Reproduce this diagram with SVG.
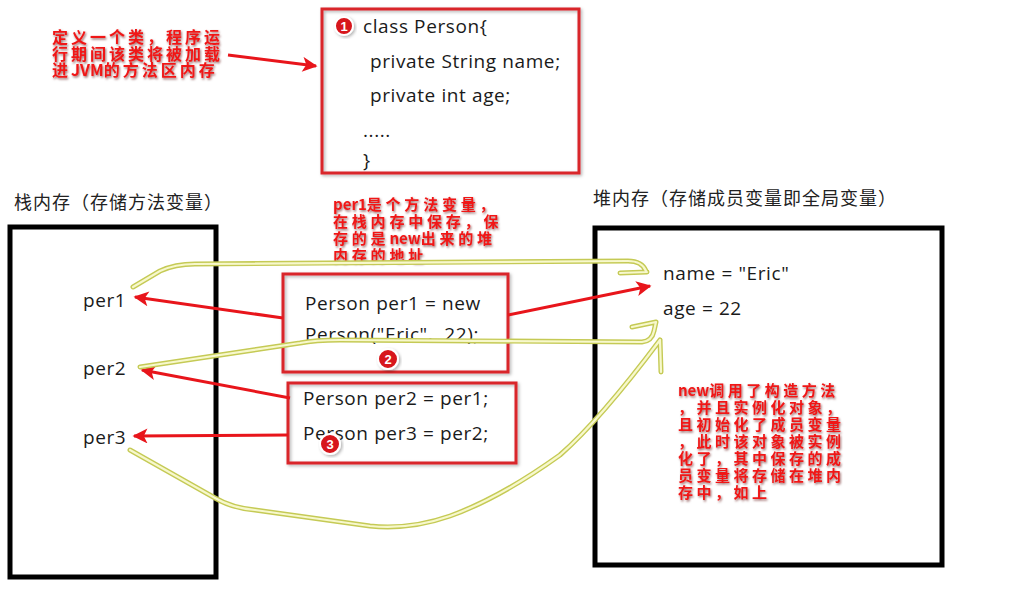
<svg xmlns="http://www.w3.org/2000/svg" width="1009" height="600" viewBox="0 0 1009 600">
<defs>
<style>
.code{font-family:"Open Sans","Liberation Sans",sans-serif;font-size:19px;fill:#1a1a1a;letter-spacing:0.6px;white-space:pre}
.head{font-family:"Noto Sans CJK SC","Noto Sans",sans-serif;font-size:18px;fill:#222;letter-spacing:1px}
.note{font-family:"Noto Sans CJK SC","Noto Sans",sans-serif;font-weight:bold;fill:#f01818;filter:url(#ts)}
.lat{letter-spacing:0}
.rbox{fill:none;stroke:#d9262b;stroke-width:3;filter:url(#bs)}
.mem{fill:none;stroke:#000;stroke-width:5}
.rarrow{fill:none;stroke:#e8151b;stroke-width:3;marker-end:url(#ah)}
.yo{fill:none;stroke:#c5ca55;stroke-width:5;stroke-linecap:round;stroke-linejoin:round}
.yi{fill:none;stroke:#f7f8cc;stroke-width:2.2;stroke-linecap:round;stroke-linejoin:round}
.badge{fill:#d7141a;stroke:#fff;stroke-width:2;filter:url(#bs)}
.bnum{font-family:"Liberation Sans",sans-serif;font-weight:bold;font-size:13px;fill:#fff;text-anchor:middle}
</style>
<filter id="ts" x="-10%" y="-10%" width="130%" height="140%"><feDropShadow dx="1" dy="1.5" stdDeviation="1" flood-color="#500" flood-opacity="0.6"/></filter>
<filter id="bs" x="-10%" y="-10%" width="130%" height="130%"><feDropShadow dx="1.5" dy="1.5" stdDeviation="1.5" flood-color="#000" flood-opacity="0.3"/></filter>
<marker id="ah" viewBox="0 0 10 10" markerWidth="7" markerHeight="5" refX="9" refY="5" orient="auto" markerUnits="strokeWidth"><path d="M0,0 L10,5 L0,10 L2.5,5 z" fill="#e8151b"/></marker>
</defs>
<rect width="1009" height="600" fill="#fff"/>

<g id="class-note">
<text class="note" font-size="16" letter-spacing="3"><tspan x="52" y="43">定义一个类，程序运</tspan><tspan x="52" y="60">行期间该类将被加载</tspan><tspan x="52" y="76">进<tspan class="lat">JVM</tspan>的方法区内存</tspan></text>
</g>

<g id="class-box">
<rect class="rbox" x="322" y="9" width="257" height="164"/>
<circle class="badge" cx="344" cy="26" r="9"/>
<text class="bnum" x="344" y="31">1</text>
<text class="code" x="363" y="33">class Person{</text>
<text class="code" x="370" y="68">private String name;</text>
<text class="code" x="370" y="102">private int age;</text>
<text class="code" x="363" y="137">.....</text>
<text class="code" x="363" y="167">}</text>
</g>

<g id="stack">
<text class="head" x="14" y="209">栈内存（存储方法变量）</text>
<rect class="mem" x="10" y="227" width="206" height="350"/>
<text class="code" x="83" y="307">per1</text>
<text class="code" x="83" y="375">per2</text>
<text class="code" x="83" y="444">per3</text>
</g>

<g id="heap">
<text class="head" x="593" y="205">堆内存（存储成员变量即全局变量）</text>
<rect class="mem" x="595" y="228" width="347" height="337"/>
<text class="code" x="663" y="280">name = "Eric"</text>
<text class="code" x="663" y="315">age = 22</text>
<text class="note" font-size="15" letter-spacing="3.5"><tspan x="678" y="396"><tspan class="lat">new</tspan>调用了构造方法</tspan><tspan x="678" y="413">，并且实例化对象，</tspan><tspan x="678" y="430">且初始化了成员变量</tspan><tspan x="678" y="447">，此时该对象被实例</tspan><tspan x="678" y="464">化了，其中保存的成</tspan><tspan x="678" y="481">员变量将存储在堆内</tspan><tspan x="678" y="498">存中，如上</tspan></text>
</g>

<g id="per1-note">
<text class="note" font-size="15" letter-spacing="3.8"><tspan x="333" y="210"><tspan class="lat">per1</tspan>是个方法变量，</tspan><tspan x="333" y="227">在栈内存中保存，保</tspan><tspan x="333" y="244">存的是<tspan class="lat">new</tspan>出来的堆</tspan><tspan x="333" y="261">内存的地址</tspan></text>
</g>

<g id="new-box">
<rect class="rbox" x="283" y="274" width="225" height="98"/>
<text class="code" x="305" y="310">Person per1 = new</text>
<text class="code" x="305" y="341" xml:space="preserve">Person("Eric",  22);</text>
<circle class="badge" cx="388" cy="359" r="10"/>
<text class="bnum" x="388" y="364">2</text>
</g>

<g id="assign-box">
<rect class="rbox" x="288" y="383" width="228" height="80"/>
<text class="code" x="303" y="405">Person per2 = per1;</text>
<text class="code" x="303" y="440">Person per3 = per2;</text>
<circle class="badge" cx="330" cy="444" r="10"/>
<text class="bnum" x="330" y="449">3</text>
</g>

<g id="connectors">
<path class="rarrow" d="M228,55 L316,66"/>
<path class="rarrow" d="M283,318 L135,297"/>
<path class="rarrow" d="M290,398 L142,370"/>
<path class="rarrow" d="M288,435 L134,436"/>
<path class="rarrow" d="M508,315 L650,286"/>
<g id="ref1">
<path class="yo" d="M133,287 L160,271 Q175,264 195,264 L628,261 Q642,261 646,271 M620,273 L647,272"/>
<path class="yi" d="M133,287 L160,271 Q175,264 195,264 L628,261 Q642,261 646,271 M620,273 L647,272"/>
</g>
<g id="ref2">
<path class="yo" d="M140,367 L300,343 Q315,340 340,340 L642,342 Q652,341 654,331 L656,322 M632,327 L656,322"/>
<path class="yi" d="M140,367 L300,343 Q315,340 340,340 L642,342 Q652,341 654,331 L656,322 M632,327 L656,322"/>
</g>
<g id="ref3">
<path class="yo" d="M130,450 L215,498 Q232,508 255,510 L370,526 Q410,530 450,516 Q500,498 560,455 Q600,420 660,340 M660,340 L661,372"/>
<path class="yi" d="M130,450 L215,498 Q232,508 255,510 L370,526 Q410,530 450,516 Q500,498 560,455 Q600,420 660,340 M660,340 L661,372"/>
</g>
</g>
</svg>
